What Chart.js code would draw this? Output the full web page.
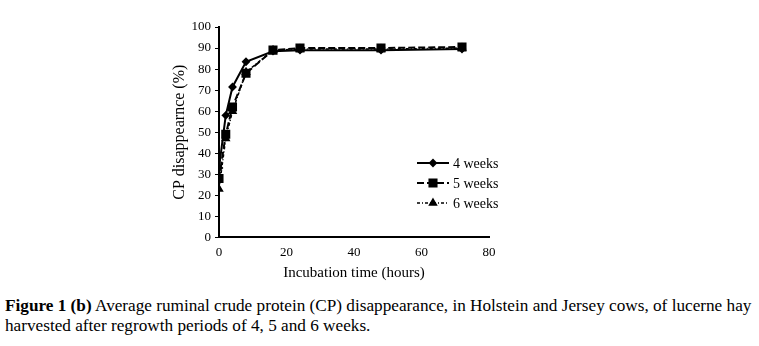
<!DOCTYPE html>
<html lang="en">
<head>
    <meta charset="UTF-8">
    <title>CP disappearance</title>
    <script src="https://cdn.jsdelivr.net/npm/chart.js"></script>
    <style>
        body { margin: 0; background: #fff; }
        .chart-box { position: relative; width: 759px; height: 290px; }
        .caption {
            font-family: "Liberation Serif", "Times New Roman", serif;
            font-size: 16px;
            line-height: 20px;
            color: #000;
            margin: 6px 0 0 5px;
            white-space: nowrap;
            transform: scaleX(1.075);
            transform-origin: left top;
        }
    </style>
</head>
<body>
    <div class="chart-box">
        <canvas id="cpChart"></canvas>
    </div>
    <div class="caption"><b>Figure 1 (b)</b> Average ruminal crude protein (CP) disappearance, in Holstein and Jersey cows, of lucerne hay<br>harvested after regrowth periods of 4, 5 and 6 weeks.</div>

    <script>
        // incubation times (hours) and CP disappearance (%)
        const hours = [0, 2, 4, 8, 16, 24, 48, 72];
        const weeks4 = [33, 58, 71.5, 83.5, 88.5, 89, 89, 89.5];
        const weeks5 = [28, 49, 62, 78, 89, 90, 90, 90.5];
        const weeks6 = [23, 47, 60, 78.5, 89, 89.5, 89.5, 90];
        const seriesLabels = ['4 weeks', '5 weeks', '6 weeks'];
        const xTicks = [0, 20, 40, 60, 80];
        const yTicks = [0, 10, 20, 30, 40, 50, 60, 70, 80, 90, 100];

        const serif = '"Liberation Serif", "Times New Roman", serif';

        function toPoints(vals) {
            return hours.map((h, i) => ({ x: h, y: vals[i] }));
        }

        // legend drawn inside the plot, like the original figure
        const innerLegend = {
            id: 'innerLegend',
            afterDraw(chart) {
                const c = chart.ctx;
                const x0 = 417, y0 = 163, gap = 20;
                chart.data.datasets.forEach((ds, i) => {
                    const y = y0 + i * gap;
                    c.save();
                    c.strokeStyle = '#000';
                    c.lineWidth = ds.borderWidth;
                    c.setLineDash(ds.borderDash || []);
                    c.beginPath();
                    c.moveTo(x0, y);
                    c.lineTo(x0 + 32, y);
                    c.stroke();
                    c.setLineDash([]);
                    Chart.helpers.drawPoint(c, {
                        pointStyle: ds.pointStyle,
                        radius: ds.pointRadius,
                        rotation: 0,
                        borderWidth: 1
                    }, x0 + 16, y);
                    c.fillStyle = '#000';
                    c.font = '14px ' + serif;
                    c.textBaseline = 'middle';
                    c.fillText(ds.label, x0 + 36, y + 1);
                    c.restore();
                });
            }
        };

        const ctx = document.getElementById('cpChart').getContext('2d');
        const chart = new Chart(ctx, {
            type: 'line',
            data: {
                datasets: [
                    {
                        label: seriesLabels[0],
                        data: toPoints(weeks4),
                        borderColor: '#000',
                        backgroundColor: '#000',
                        borderWidth: 2,
                        pointStyle: 'rectRot',
                        pointRadius: 3
                    },
                    {
                        label: seriesLabels[1],
                        data: toPoints(weeks5),
                        borderColor: '#000',
                        backgroundColor: '#000',
                        borderWidth: 2,
                        borderDash: [7, 3],
                        pointStyle: 'rect',
                        pointRadius: 5
                    },
                    {
                        label: seriesLabels[2],
                        data: toPoints(weeks6),
                        borderColor: '#000',
                        backgroundColor: '#000',
                        borderWidth: 1.5,
                        borderDash: [3, 2, 1, 2],
                        pointStyle: 'triangle',
                        pointRadius: 4
                    }
                ]
            },
            options: {
                animation: false,
                responsive: true,
                maintainAspectRatio: false,
                layout: {
                    padding: { top: 27, left: 170, right: 270, bottom: 8 }
                },
                elements: {
                    line: { tension: 0, fill: false },
                    point: { borderWidth: 1, hoverRadius: 5 }
                },
                plugins: {
                    legend: { display: false },
                    tooltip: { enabled: false }
                },
                scales: {
                    x: {
                        type: 'linear',
                        min: 0,
                        max: 80,
                        afterBuildTicks: (axis) => { axis.ticks = xTicks.map(v => ({ value: v })); },
                        border: { color: '#000', width: 2 },
                        grid: { display: false, drawOnChartArea: false, tickLength: 4, color: '#000' },
                        ticks: { color: '#000', padding: 3, font: { family: serif, size: 13 } },
                        title: {
                            display: true,
                            text: 'Incubation time (hours)',
                            color: '#000',
                            padding: { top: 1, bottom: 0 },
                            font: { family: serif, size: 15 }
                        }
                    },
                    y: {
                        min: 0,
                        max: 100,
                        afterBuildTicks: (axis) => { axis.ticks = yTicks.map(v => ({ value: v })); },
                        afterFit: (axis) => { axis.width = 49; },
                        border: { color: '#000', width: 2 },
                        grid: { drawOnChartArea: false, tickLength: 4, color: '#000' },
                        ticks: { color: '#000', padding: 4, font: { family: serif, size: 13 } },
                        title: {
                            display: true,
                            text: 'CP disappearnce (%)',
                            color: '#000',
                            padding: 0,
                            font: { family: serif, size: 16 }
                        }
                    }
                }
            },
            plugins: [innerLegend]
        });
    </script>
</body>
</html>
